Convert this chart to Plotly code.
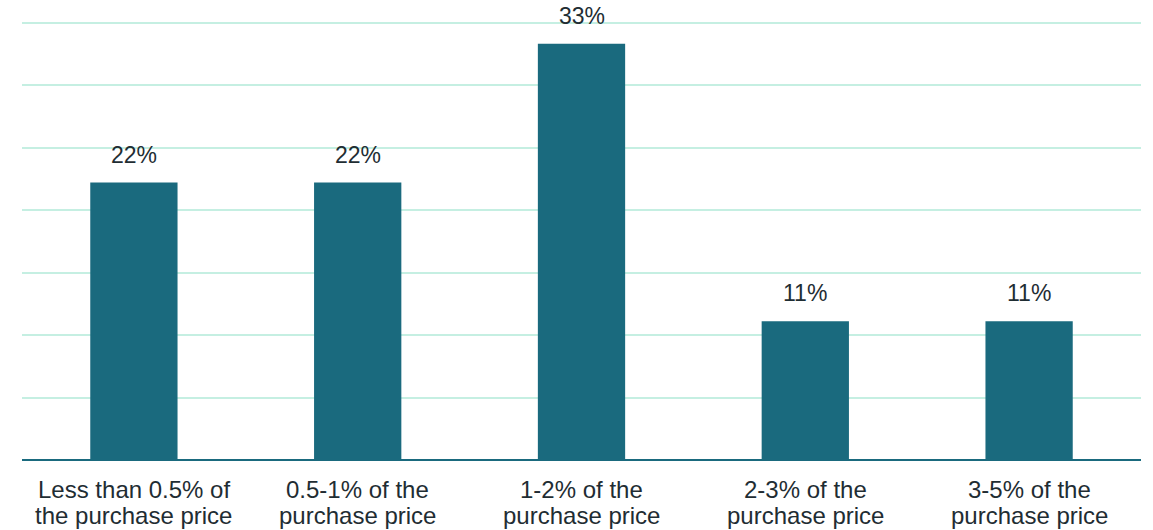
import plotly.graph_objects as go

categories = [
    "Less than 0.5% of the purchase price",
    "0.5-1% of the purchase price",
    "1-2% of the purchase price",
    "2-3% of the purchase price",
    "3-5% of the purchase price",
]
line1 = ["Less than 0.5% of", "0.5-1% of the", "1-2% of the", "2-3% of the", "3-5% of the"]
line2 = ["the purchase price"] + ["purchase price"] * 4
values = [22.2, 22.2, 33.3, 11.1, 11.1]
labels = ["22%", "22%", "33%", "11%", "11%"]

bar_color = "#1a6a7e"
grid_color = "#c5efe2"
text_color = "#1f2d33"
font_family = "Arial, Liberation Sans, sans-serif"

fig = go.Figure()
fig.add_trace(go.Bar(
    x=categories,
    y=values,
    marker=dict(color=bar_color, line=dict(width=0)),
    hoverinfo="skip",
))

for c, v, t in zip(categories, values, labels):
    fig.add_annotation(
        x=c, y=v, text=t, showarrow=False,
        xref="x", yref="y", yanchor="middle", yshift=28,
        borderpad=0,
        font=dict(size=23, color=text_color, family=font_family),
    )

for c, a, b in zip(categories, line1, line2):
    fig.add_annotation(
        x=c, y=0, text=a, showarrow=False,
        xref="x", yref="paper", yanchor="middle", yshift=-29,
        borderpad=0,
        font=dict(size=24, color=text_color, family=font_family),
    )
    fig.add_annotation(
        x=c, y=0, text=b, showarrow=False,
        xref="x", yref="paper", yanchor="middle", yshift=-55,
        borderpad=0,
        font=dict(size=24, color=text_color, family=font_family),
    )

fig.update_layout(
    width=1153, height=530,
    margin=dict(l=22, r=12, t=21, b=70, autoexpand=False),
    paper_bgcolor="white",
    plot_bgcolor="white",
    bargap=0.61,
    showlegend=False,
    font=dict(family=font_family, color=text_color),
)
fig.update_xaxes(
    showgrid=False,
    showline=False,
    ticks="",
    showticklabels=False,
    automargin=False,
    fixedrange=True,
)
fig.update_yaxes(
    range=[0, 35.12],
    dtick=5,
    tick0=0,
    showgrid=True,
    gridcolor=grid_color,
    gridwidth=2,
    zeroline=True,
    zerolinecolor=bar_color,
    zerolinewidth=2,
    showticklabels=False,
    ticks="",
    automargin=False,
    fixedrange=True,
)

fig.write_html(
    "out.html",
    config={"displayModeBar": False, "staticPlot": True},
    post_script="document.body.style.margin='0';document.body.style.overflow='hidden';",
)
